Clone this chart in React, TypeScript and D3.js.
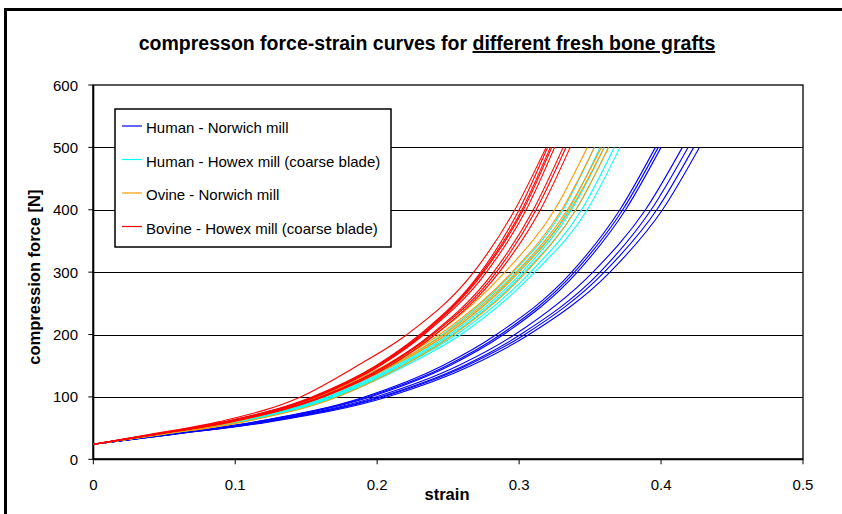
import React from "react";
import * as d3 from "d3";

// force levels [N] at which the strain of each curve was read
const forceLevels = [24, 40, 60, 100, 150, 200, 300, 400, 500];

// strain at each force level, one row per specimen
const humanNorwich = [
  [0, 0.052, 0.114, 0.191, 0.246, 0.284, 0.337, 0.371, 0.396],
  [0, 0.053, 0.115, 0.193, 0.249, 0.287, 0.339, 0.373, 0.398],
  [0, 0.053, 0.116, 0.195, 0.251, 0.289, 0.341, 0.375, 0.4],
  [0, 0.054, 0.119, 0.199, 0.257, 0.297, 0.352, 0.389, 0.415],
  [0, 0.055, 0.121, 0.202, 0.261, 0.301, 0.357, 0.393, 0.419],
  [0, 0.056, 0.122, 0.204, 0.263, 0.304, 0.36, 0.397, 0.423],
  [0, 0.056, 0.124, 0.207, 0.266, 0.307, 0.364, 0.401, 0.427],
];
const humanHowex = [
  [0, 0.046, 0.1, 0.163, 0.21, 0.246, 0.296, 0.331, 0.353],
  [0, 0.046, 0.101, 0.165, 0.212, 0.249, 0.299, 0.335, 0.357],
  [0, 0.047, 0.102, 0.166, 0.214, 0.251, 0.302, 0.337, 0.36],
  [0, 0.047, 0.103, 0.168, 0.216, 0.253, 0.304, 0.34, 0.363],
  [0, 0.048, 0.104, 0.17, 0.218, 0.256, 0.308, 0.344, 0.367],
  [0, 0.048, 0.105, 0.171, 0.22, 0.259, 0.311, 0.348, 0.371],
];
const ovineNorwich = [
  [0, 0.044, 0.096, 0.158, 0.205, 0.241, 0.29, 0.325, 0.348],
  [0, 0.045, 0.098, 0.16, 0.207, 0.244, 0.295, 0.33, 0.353],
  [0, 0.045, 0.098, 0.161, 0.209, 0.247, 0.298, 0.334, 0.358],
  [0, 0.046, 0.099, 0.162, 0.211, 0.249, 0.3, 0.336, 0.36],
  [0, 0.049, 0.106, 0.172, 0.218, 0.254, 0.305, 0.34, 0.363],
];
const bovineHowex = [
  [0, 0.04, 0.088, 0.146, 0.186, 0.221, 0.268, 0.297, 0.319],
  [0, 0.042, 0.092, 0.154, 0.199, 0.23, 0.273, 0.3, 0.32],
  [0, 0.043, 0.093, 0.155, 0.2, 0.231, 0.274, 0.302, 0.322],
  [0, 0.043, 0.093, 0.156, 0.201, 0.232, 0.275, 0.303, 0.323],
  [0, 0.043, 0.094, 0.157, 0.202, 0.233, 0.277, 0.305, 0.325],
  [0, 0.044, 0.095, 0.16, 0.206, 0.238, 0.282, 0.31, 0.331],
  [0, 0.044, 0.096, 0.161, 0.207, 0.239, 0.284, 0.312, 0.333],
  [0, 0.044, 0.097, 0.162, 0.209, 0.241, 0.286, 0.315, 0.336],
];

const seriesNames = [
  "Human - Norwich mill",
  "Human - Howex mill (coarse blade)",
  "Ovine - Norwich mill",
  "Bovine - Howex mill (coarse blade)",
];
const seriesColors = ["#0000ff", "#00ffff", "#ff9900", "#ff0000"];
const seriesData = [humanNorwich, humanHowex, ovineNorwich, bovineHowex];

const xTicks = [0, 0.1, 0.2, 0.3, 0.4, 0.5];
const yTicks = [0, 100, 200, 300, 400, 500, 600];

export default function App() {
  const W = 842, H = 514;
  const left = 93.3, right = 803, top = 85, bottom = 459.3;

  const x = d3.scaleLinear().domain([0, 0.5]).range([left, right]);
  const y = d3.scaleLinear().domain([0, 600]).range([bottom, top]);

  const line = d3
    .line<number>()
    .x((s) => x(s))
    .y((_, i) => y(forceLevels[i]))
    .curve(d3.curveMonotoneX);

  const font = "'Liberation Sans', Arial, sans-serif";

  return (
    <div style={{ position: "absolute", left: 0, top: 0, width: W, height: H, overflow: "hidden" }}>
      <svg width={W} height={H} style={{ display: "block", background: "#fff" }} fontFamily={font}>
        {/* outer chart frame, runs off the right and bottom */}
        <path d={`M5.5,${H} V9.5 H${W}`} fill="none" stroke="#000" strokeWidth={3} />

        <text x={427} y={50} textAnchor="middle" fontSize={19.5} fontWeight="bold">
          compresson force-strain curves for{" "}
          <tspan textDecoration="underline">different fresh bone grafts</tspan>
        </text>

        {/* gridlines */}
        {yTicks.slice(1, -1).map((t) => (
          <line key={t} x1={left} x2={right} y1={Math.round(y(t)) + 0.5} y2={Math.round(y(t)) + 0.5} stroke="#000" strokeWidth={1} />
        ))}

        {/* plot frame */}
        <rect x={left} y={top} width={right - left} height={bottom - top} fill="none" stroke="#000" strokeWidth={1.3} />
        <line x1={left} x2={left} y1={top} y2={bottom} stroke="#000" strokeWidth={2} />
        <line x1={left} x2={right} y1={bottom} y2={bottom} stroke="#000" strokeWidth={2} />

        {/* y axis ticks */}
        {yTicks.map((t) => (
          <g key={t}>
            <line x1={left - 5} x2={left} y1={y(t)} y2={y(t)} stroke="#000" />
            <text x={78} y={y(t) + 5.5} textAnchor="end" fontSize={15}>
              {t}
            </text>
          </g>
        ))}

        {/* x axis ticks */}
        {xTicks.map((t) => (
          <g key={t}>
            <line x1={x(t)} x2={x(t)} y1={bottom} y2={bottom + 5} stroke="#000" />
            <text x={x(t)} y={490} textAnchor="middle" fontSize={15}>
              {t}
            </text>
          </g>
        ))}

        <text x={447} y={500} textAnchor="middle" fontSize={16.5} fontWeight="bold">
          strain
        </text>
        <text
          transform={`translate(40,${(top + bottom) / 2 + 5}) rotate(-90)`}
          textAnchor="middle"
          fontSize={16.5}
          fontWeight="bold"
        >
          compression force [N]
        </text>

        {/* curves */}
        {seriesData.map((group, gi) =>
          group.map((curve, ci) => (
            <path
              key={gi + "-" + ci}
              d={line(curve) || ""}
              fill="none"
              stroke={seriesColors[gi]}
              strokeWidth={1.1}
            />
          ))
        )}

        {/* legend */}
        <rect x={115} y={109} width={276} height={138} fill="#fff" stroke="#000" strokeWidth={1.5} />
        {seriesNames.map((name, i) => {
          const ly = 126 + i * 33.5;
          return (
            <g key={name}>
              <line x1={122} x2={142} y1={ly} y2={ly} stroke={seriesColors[i]} strokeWidth={1.2} />
              <text x={146} y={ly + 7} fontSize={15}>
                {name}
              </text>
            </g>
          );
        })}
      </svg>
    </div>
  );
}
